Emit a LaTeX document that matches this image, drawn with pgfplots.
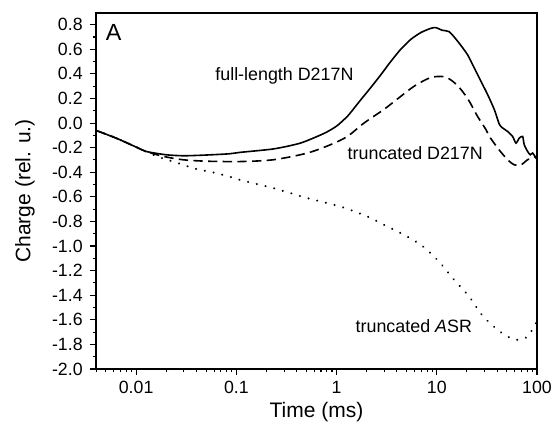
\documentclass[border=0pt]{standalone}
\usepackage{fontspec}
\setmainfont{Liberation Sans}
\usepackage{pgfplots}
\pgfplotsset{compat=1.18}
\begin{document}
\begin{tikzpicture}
\begin{axis}[
  scale only axis, width=330.75pt, height=267pt,
  xmode=log, xmin=0.00398, xmax=100, ymin=-2.0, ymax=0.895,
  xtick={0.01,0.1,1,10,100}, xticklabels={0.01,0.1,1,10,100},
  minor xtick={0.004,0.005,0.006,0.007,0.008,0.009,0.02,0.03,0.04,0.05,0.06,0.07,0.08,0.09,0.2,0.3,0.4,0.5,0.6,0.7,0.8,0.9,2,3,4,5,6,7,8,9,20,30,40,50,60,70,80,90},
  ytick={-2.0,-1.8,-1.6,-1.4,-1.2,-1.0,-0.8,-0.6,-0.4,-0.2,0.0,0.2,0.4,0.6,0.8},
  minor ytick={-1.9,-1.7,-1.5,-1.3,-1.1,-0.9,-0.7,-0.5,-0.3,-0.1,0.1,0.3,0.5,0.7},
  tick align=outside, tick pos=left,
  major tick length=4.5pt, minor tick length=2.5pt,
  tick style={black, line width=0.8pt},
  axis line style={line width=1pt},
  yticklabel style={xshift=-2pt, /pgf/number format/.cd, fixed, fixed zerofill, precision=1},
  xticklabel style={yshift=-1pt},
  /pgf/number format/assume math mode=true,
  ticklabel style={font=\fontsize{13.3}{15}\selectfont},
  every axis y label/.style={at={(axis description cs:0,0.5)}, xshift=-53.25pt, rotate=90, anchor=center, font=\fontsize{15.75}{18}\selectfont},
  every axis x label/.style={at={(axis description cs:0.5,0)}, yshift=-32.25pt, anchor=center, font=\fontsize{15.75}{18}\selectfont},
  xlabel={Time (ms)}, ylabel={Charge (rel. u.)},
]
\addplot[black, line width=1.2pt, smooth, tension=0.4] coordinates {
(0.00398,-0.06) (0.0063,-0.122) (0.01,-0.195) (0.0126,-0.231) (0.02,-0.258) (0.03,-0.266) (0.05,-0.26) (0.085,-0.25) (0.11,-0.238) (0.236,-0.21) (0.436,-0.163) (0.746,-0.085) (1.0,-0.025) (1.3,0.06) (1.67,0.17) (2.2,0.29) (2.75,0.39) (3.47,0.50) (4.37,0.60) (5.5,0.68) (6.9,0.735) (8.7,0.77) (9.77,0.776) (11.4,0.754) (13.3,0.743) (16.1,0.667) (20.2,0.558) (23.6,0.45) (27.5,0.342) (32.1,0.233) (37.5,0.11) (42.1,-0.01) (45.4,-0.04) (50.9,-0.068) (57.1,-0.109) (61.7,-0.163) (66.6,-0.122) (71.9,-0.109) (74.6,-0.176) (80.6,-0.231) (85.6,-0.258) (90.5,-0.244) (97.7,-0.285) (100,-0.28)
};
\addplot[black, line width=1.2pt, smooth, dash pattern=on 7pt off 4pt] coordinates {
(0.00398,-0.06) (0.0063,-0.122) (0.01,-0.195) (0.0126,-0.231) (0.0185,-0.27) (0.029,-0.298) (0.05,-0.31) (0.11,-0.313) (0.236,-0.298) (0.51,-0.244) (0.87,-0.176) (1.28,-0.109) (1.88,0.0) (2.96,0.11) (4.2,0.206) (5.96,0.30) (8.7,0.37) (11.8,0.377) (14.3,0.342) (17.4,0.274) (21,0.18) (25.4,0.057) (30.9,-0.052) (33.3,-0.106) (41.8,-0.217) (50.9,-0.298) (59.4,-0.34) (69.2,-0.34) (80.6,-0.298) (94,-0.277) (100,-0.27)
};
\addplot[black, line width=1.7pt, smooth, line cap=round, dash pattern=on 0.01pt off 6.7pt] coordinates {
(0.00398,-0.06) (0.0063,-0.122) (0.01,-0.195) (0.0136,-0.245) (0.017,-0.277) (0.026,-0.325) (0.04,-0.374) (0.058,-0.40) (0.089,-0.44) (0.112,-0.465) (0.236,-0.53) (0.51,-0.61) (1.1,-0.68) (2.03,-0.76) (2.96,-0.827) (4.7,-0.909) (7.2,-1.0) (10.5,-1.126) (14.9,-1.275) (21,-1.41) (28.2,-1.56) (38.9,-1.67) (50.9,-1.736) (64,-1.763) (80.6,-1.736) (95.5,-1.64) (100,-1.61)
};
\node[font=\fontsize{17.5}{20}\selectfont] at (axis cs:0.00596,0.739) {A};
\node[font=\fontsize{13.4}{16}\selectfont] at (axis cs:0.302,0.385) {full-length D217N};
\node[font=\fontsize{13.4}{16}\selectfont] at (axis cs:6.1,-0.242) {truncated D217N};
\node[font=\fontsize{13.4}{16}\selectfont] at (axis cs:5.9,-1.655) {truncated \textit{A}SR};
\end{axis}
\pgfresetboundingbox
\path (current axis.south west) +(-72pt,-47.25pt) (current axis.north east) +(12pt,9.75pt);
\end{tikzpicture}
\end{document}
